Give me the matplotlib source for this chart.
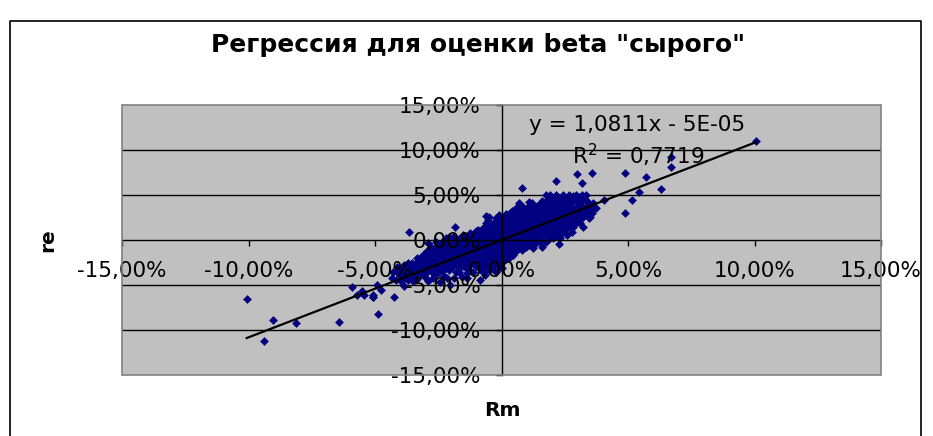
import matplotlib
matplotlib.use("Agg")
import matplotlib.pyplot as plt
from matplotlib.patches import Rectangle
from matplotlib.lines import Line2D

plt.rcParams['font.family'] = ['DejaVu Sans']

# returns in percent
rm_out = [-10.07, -9.39, -9.05, -8.13, -6.43, -5.90, -5.73, -5.50, -5.44, -4.94,
          -5.07, -5.06, -4.75, -4.89, -4.26, -5.08, -3.67, -1.85, -0.93, -0.60,
          0.82, 2.16, 2.99, 3.56, 3.18, 4.89, 5.15, 4.89, 10.07, 6.69,
          6.69, 5.71, 6.32, 5.44, 4.06]
re_out = [-6.59, -11.26, -8.89, -9.26, -9.11, -5.22, -6.15, -5.70, -6.07, -5.00,
          -6.15, -6.35, -5.56, -8.22, -6.37, -6.30, 0.89, 1.50, 1.11, 2.67,
          5.81, 6.60, 7.33, 7.44, 6.37, 7.40, 4.44, 2.96, 11.04, 9.26,
          8.07, 6.96, 5.70, 5.37, 4.44]

rm_core = [
    -4.30, -4.32,
    -4.15, -4.13, -4.17,
    -4.00, -4.02, -3.98,
    -3.85, -3.87, -3.83, -3.86,
    -3.70, -3.72, -3.68, -3.71,
    -3.50, -3.52, -3.48, -3.51, -3.49,
    -3.35, -3.37, -3.33, -3.36, -3.34,
    -3.20, -3.22, -3.18, -3.21, -3.19,
    -3.05, -3.04, -3.07, -3.03, -3.06, -3.05,
    -2.90, -2.92, -2.88, -2.91, -2.89, -2.90, -2.93,
    -2.75, -2.77, -2.73, -2.76, -2.74, -2.75, -2.72, -2.78,
    -2.60, -2.62, -2.58, -2.61, -2.59, -2.60, -2.63, -2.57,
    -2.45, -2.47, -2.43, -2.46, -2.44, -2.45, -2.48, -2.42, -2.46,
    -2.30, -2.32, -2.28, -2.31, -2.29, -2.30, -2.33, -2.27, -2.31,
    -2.18, -2.20, -2.16, -2.19, -2.17, -2.18, -2.21, -2.15, -2.19,
    -2.05, -2.07, -2.03, -2.06, -2.04, -2.05, -2.08, -2.02, -2.06,
    -1.92, -1.94, -1.90, -1.93, -1.91, -1.92, -1.95, -1.89, -1.93,
    -1.80, -1.82, -1.78, -1.81, -1.79, -1.80, -1.83, -1.77, -1.81,
    -1.66, -1.68, -1.64, -1.67, -1.65, -1.66, -1.69, -1.63, -1.67,
    -1.53, -1.55, -1.51, -1.54, -1.52, -1.53, -1.56, -1.50, -1.54, -1.52,
    -1.39, -1.41, -1.37, -1.40, -1.38, -1.39, -1.42, -1.36, -1.40, -1.38,
    -1.26, -1.28, -1.24, -1.27, -1.25, -1.26, -1.29, -1.23, -1.27, -1.25,
    -1.13, -1.15, -1.11, -1.14, -1.12, -1.13, -1.16, -1.10, -1.14,
    -1.00, -1.02, -0.98, -1.01, -0.99, -1.00, -1.03, -0.97, -1.01, -0.99,
    -0.87, -0.89, -0.85, -0.88, -0.86, -0.87, -0.90, -0.84, -0.88, -0.86, -0.87,
    -0.74, -0.76, -0.72, -0.75, -0.73, -0.74, -0.77, -0.71, -0.75, -0.73, -0.74,
    -0.62, -0.64, -0.60, -0.63, -0.61, -0.62, -0.65, -0.59, -0.63, -0.61, -0.62,
    -0.50, -0.52, -0.48, -0.51, -0.49, -0.50, -0.53, -0.47, -0.51, -0.49, -0.50, -0.52, -0.48,
    -0.36, -0.38, -0.34, -0.37, -0.35, -0.36, -0.39, -0.33, -0.37, -0.35, -0.36, -0.38,
    -0.22, -0.24, -0.20, -0.23, -0.21, -0.22, -0.25, -0.19, -0.23, -0.21, -0.22, -0.24, -0.20,
    -0.08, -0.10, -0.06, -0.09, -0.07, -0.08, -0.11, -0.05, -0.09, -0.07, -0.08, -0.10, -0.06,
    0.05, 0.03, 0.07, 0.04, 0.06, 0.05, 0.02, 0.08, 0.04, 0.06, 0.05, 0.03,
    0.19, 0.17, 0.21, 0.18, 0.20, 0.19, 0.16, 0.22, 0.18, 0.20, 0.19, 0.17,
    0.32, 0.30, 0.34, 0.31, 0.33, 0.32, 0.29, 0.35, 0.31, 0.33, 0.32, 0.30,
    0.45, 0.43, 0.47, 0.44, 0.46, 0.45, 0.42, 0.48, 0.44, 0.46, 0.45,
    0.58, 0.56, 0.60, 0.57, 0.59, 0.58, 0.55, 0.61, 0.57, 0.59, 0.58,
    0.71, 0.69, 0.73, 0.70, 0.72, 0.71, 0.68, 0.74, 0.70, 0.72, 0.71,
    0.84, 0.82, 0.86, 0.83, 0.85, 0.84, 0.81, 0.87, 0.83, 0.85, 0.84,
    0.97, 0.95, 0.99, 0.96, 0.98, 0.97, 0.94, 1.00, 0.96, 0.98,
    1.10, 1.08, 1.12, 1.09, 1.11, 1.10, 1.07, 1.13, 1.09, 1.11, 1.10,
    1.24, 1.22, 1.26, 1.23, 1.25, 1.24, 1.21, 1.27, 1.23, 1.25, 1.24, 1.22,
    1.37, 1.35, 1.39, 1.36, 1.38, 1.37, 1.34, 1.40, 1.36, 1.38,
    1.50, 1.48, 1.52, 1.49, 1.51, 1.50, 1.47, 1.53, 1.49, 1.51,
    1.63, 1.61, 1.65, 1.62, 1.64, 1.63, 1.60, 1.66, 1.62, 1.64,
    1.76, 1.74, 1.78, 1.75, 1.77, 1.76, 1.73, 1.79, 1.75, 1.77, 1.76,
    1.89, 1.87, 1.91, 1.88, 1.90, 1.89, 1.86, 1.92, 1.88, 1.90, 1.89,
    2.02, 2.00, 2.04, 2.01, 2.03, 2.02, 1.99, 2.05, 2.01, 2.03,
    2.16, 2.14, 2.18, 2.15, 2.17, 2.16, 2.13, 2.19, 2.15, 2.17,
    2.29, 2.27, 2.31, 2.28, 2.30, 2.29, 2.26, 2.32, 2.28, 2.30,
    2.42, 2.40, 2.44, 2.41, 2.43, 2.42, 2.39, 2.45, 2.41,
    2.56, 2.54, 2.58, 2.55, 2.57, 2.56, 2.53, 2.59,
    2.68, 2.66, 2.70, 2.67, 2.69, 2.68, 2.65,
    2.81, 2.79, 2.83, 2.80, 2.82, 2.81, 2.78, 2.84,
    2.95, 2.93, 2.97, 2.94, 2.96, 2.95,
    3.08, 3.06, 3.10, 3.07, 3.09, 3.08,
    3.21, 3.19, 3.23, 3.20, 3.22, 3.21,
    3.34, 3.32, 3.36, 3.33, 3.35,
    3.47, 3.45, 3.49, 3.46,
    3.60, 3.58, 3.62,
    3.75,
]
re_core = [
    -3.6, -4.2,
    -3.5, -3.0, -4.4,
    -3.9, -3.3, -4.6,
    -2.8, -3.6, -4.2, -5.1,
    -3.0, -3.6, -4.4, -2.5,
    -3.15, -2.6, -4.07, -3.6, -4.6,
    -2.0, -2.6, -3.3, -3.8, -4.3,
    -2.4, -3.15, -1.9, -3.7, -2.9,
    -2.05, -4.07, -1.6, -2.7, -3.3, -3.8,
    -0.37, -1.7, -2.3, -2.9, -3.4, -4.6, -1.2,
    -1.1, -1.5, -2.4, -2.0, -2.9, -3.5, -4.26, -0.8,
    -0.19, -0.9, -1.5, -2.1, -2.6, -3.3, -3.9, -1.2,
    -0.93, -1.48, -0.4, -2.0, -2.5, -3.0, -3.5, -4.63, -1.8,
    -0.37, -0.9, -1.4, -1.9, -2.4, -2.8, -3.3, -4.0, -0.1,
    -0.19, -0.7, -1.2, -1.7, -2.2, -2.7, -3.1, -4.26, 0.2,
    -2.78, -0.5, -1.0, -1.5, -2.0, -2.4, -3.3, -5.0, 0.37,
    -0.19, -0.7, -1.2, -1.6, -2.0, -2.6, -3.0, -4.26, 0.3,
    -1.85, -0.2, 0.1, -0.6, -1.1, -1.5, -2.3, -2.8, -3.5,
    -2.22, -0.5, -0.9, -1.3, -1.7, 0.2, -2.6, -3.0, -3.6,
    -0.74, -4.07, -0.1, -0.4, -1.1, -1.5, -1.9, -2.4, -2.9, 0.6,
    0.19, -1.3, -4.26, -0.3, -0.7, -1.7, -2.1, -2.6, -3.1, -3.7,
    0.74, -0.2, -0.6, -1.0, -1.4, -1.8, -2.3, -2.8, -3.3, 0.3,
    -3.52, 0.1, -0.2, -0.8, -1.2, -1.6, -2.0, -2.5, 0.5,
    -2.04, 0.56, 0.0, -0.4, -0.9, -1.3, -1.7, -2.4, -2.9, 1.0,
    0.93, 0.0, -4.44, -0.5, -1.0, -1.4, -1.8, -2.2, -2.7, -3.2, 0.4,
    1.3, 0.7, 0.2, -0.3, -0.7, -1.1, -1.5, -2.0, -2.5, -3.0, -3.6,
    1.85, -3.89, 1.0, 0.4, -0.1, -0.5, -0.9, -1.3, -1.7, -2.2, -2.8,
    2.59, 2.22, -3.33, 1.5, 1.0, 0.5, 0.0, -0.4, -0.8, -1.2, -1.6, -2.1, -2.6,
    -3.15, 1.7, 1.2, 0.7, 0.2, -0.3, -0.7, -1.1, -1.5, -2.0, -2.5, -2.9,
    -3.52, 2.0, 1.5, 1.0, 0.5, 0.0, -0.4, -0.8, -1.2, -1.7, -2.2, -2.7, 2.5,
    2.78, 2.04, 1.6, 1.1, 0.6, 0.2, -0.2, -0.6, -1.0, -1.5, -2.0, -2.5, -3.0,
    -2.22, -3.15, 2.4, 1.9, 1.4, 0.9, 0.4, 0.0, -0.4, -0.8, -1.3, -1.8,
    2.41, 2.0, 1.5, 1.0, 0.6, 0.1, -0.3, -0.7, -1.2, -1.6, -2.1, 2.9,
    2.96, 2.5, 2.0, 1.5, 1.1, 0.6, 0.2, -0.2, -0.6, -1.1, -1.5, -2.0,
    -1.67, 3.2, 2.7, 2.2, 1.8, 1.3, 0.9, 0.4, 0.0, -0.5, -1.0,
    3.52, 3.0, 2.5, 2.0, 1.6, 1.1, 0.7, 0.3, -0.2, -0.7, -1.2,
    4.07, 3.3, 2.8, 2.3, 1.9, 1.4, 1.0, 0.5, 0.1, -0.4, -0.9,
    3.7, -1.11, 3.1, 2.6, 2.1, 1.7, 1.2, 0.8, 0.3, -0.2, -0.6,
    3.5, 3.0, 2.5, 2.0, 1.5, 1.0, 0.6, 0.1, -0.4, -0.8,
    4.26, 3.8, 3.3, 2.8, 2.3, 1.8, 1.3, 0.9, 0.4, 0.0, -0.5,
    3.89, 4.1, 3.4, 2.9, 2.4, 1.9, 1.5, 1.0, 0.6, 0.1, -0.93, -0.4,
    3.33, 1.85, 3.8, 2.8, 2.3, 1.4, 0.9, 0.5, 0.0, -0.37,
    2.59, 0.37, 4.0, 3.5, 3.0, 2.1, 1.6, 1.1, 0.7, -0.2,
    1.11, -0.74, -0.19, 4.3, 3.7, 3.2, 2.7, 2.3, 1.8, 0.6,
    -0.19, 5.0, 4.5, 4.0, 3.4, 2.9, 2.4, 2.0, 1.5, 1.0, 0.4,
    4.44, 2.59, 5.0, 3.9, 3.4, 2.9, 2.1, 1.6, 1.1, 0.6, 0.1,
    0.19, 4.7, 4.2, 3.7, 3.1, 2.6, 2.2, 1.6, 1.2, 0.7,
    1.85, 5.0, 4.4, 3.9, 3.4, 2.9, 2.4, 1.4, 0.9, 0.4,
    4.63, -0.44, 4.0, 3.5, 3.0, 2.5, 2.0, 1.5, 1.0, 0.2,
    2.96, 0.74, 5.0, 4.3, 3.8, 3.3, 2.3, 1.8, 1.3,
    1.85, 4.6, 4.0, 3.5, 3.0, 2.5, 1.2, 0.6,
    3.89, 5.0, 4.4, 3.3, 2.8, 2.2, 1.6,
    4.44, 0.93, 4.9, 3.8, 3.2, 2.6, 2.0, 1.4,
    5.0, 4.3, 3.6, 3.0, 2.4, 1.9,
    4.81, 2.22, 1.85, 4.2, 3.5, 2.9,
    1.48, 5.0, 4.4, 3.8, 3.2, 2.6,
    5.0, 3.33, 4.3, 3.7, 2.9,
    3.89, 2.41, 2.6, 3.3,
    3.52, 3.0, 4.1,
    3.6,
]
assert len(rm_core) == len(re_core), (len(rm_core), len(re_core))

rm = rm_out + rm_core
re = re_out + re_core

slope = 1.0811
intercept = -5e-05 * 100   # in percent
r2_text = "R$^2$ = 0,7719"
eq_text = "y = 1,0811x - 5E-05"

ticks = [-15, -10, -5, 0, 5, 10, 15]
tick_labels = [f"{t:.2f}%".replace(".", ",") for t in ticks]

W, H = 933, 436
fig = plt.figure(figsize=(W / 100, H / 100), dpi=100)
ax = fig.add_axes([122 / W, (H - 375) / H, (881 - 122) / W, (375 - 105) / H])
ax.set_facecolor("#C0C0C0")
ax.set_xlim(-15, 15)
ax.set_ylim(-15, 15)

for t in ticks:
    if t not in (0, -15, 15):
        ax.axhline(t, color="black", lw=1, zorder=0.5)

ax.scatter(rm, re, marker="D", s=20, color="#000080", linewidths=0, zorder=1)

x0, x1 = min(rm), max(rm)
ax.plot([x0, x1], [slope * x0 + intercept, slope * x1 + intercept],
        color="black", lw=1.6, zorder=2)

for side in ("top", "right"):
    ax.spines[side].set_visible(False)
ax.spines["left"].set_position(("data", 0))
ax.spines["bottom"].set_position(("data", 0))
ax.spines["left"].set_linewidth(1)
ax.spines["bottom"].set_linewidth(1)
ax.add_patch(Rectangle((0, 0), 1, 1, transform=ax.transAxes, fill=False,
                       edgecolor="#808080", lw=1.2, zorder=3, clip_on=False))

ax.set_xticks(ticks)
ax.set_xticklabels(tick_labels)
ax.set_yticks(ticks)
ax.set_yticklabels(tick_labels)
ax.tick_params(axis="both", direction="out", length=4, width=1,
               labelsize=15.5, colors="black")
ax.tick_params(axis="x", pad=11)
ax.tick_params(axis="y", pad=11)

ax.text(0.678, 0.926, eq_text, transform=ax.transAxes, fontsize=15.5,
        ha="center", va="center", zorder=4)
ax.text(0.68, 0.815, r2_text, transform=ax.transAxes, fontsize=15.5,
        ha="center", va="center", zorder=4)

fig.text(478 / W, 1 - 45 / H, 'Регрессия для оценки beta "сырого"',
         fontsize=18, fontweight="bold", ha="center", va="center")
fig.text(502 / W, 1 - 410 / H, "Rm", fontsize=14.5, fontweight="bold",
         ha="center", va="center")
fig.text(48 / W, 1 - 240 / H, "re", fontsize=14.5, fontweight="bold",
         ha="center", va="center", rotation=90)

# chart border (bottom edge falls outside the picture)
bx0, bx1, by1 = 10 / W, 921 / W, 1 - 21 / H
fig.add_artist(Line2D([bx0, bx0, bx1, bx1], [-0.02, by1, by1, -0.02],
                      transform=fig.transFigure, color="black", lw=1.2))

fig.savefig("out.png", dpi=100)
